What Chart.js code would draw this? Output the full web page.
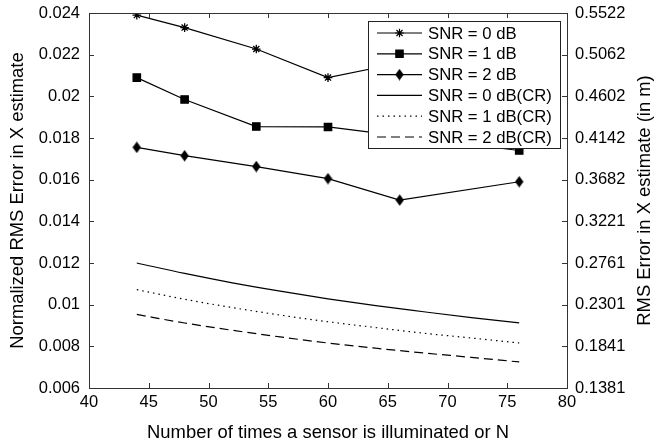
<!DOCTYPE html>
<html lang="en">
<head>
<meta charset="UTF-8">
<title>RMS Error vs N</title>
<script src="https://cdn.jsdelivr.net/npm/chart.js"></script>
<style>
  html, body { margin: 0; padding: 0; background: #fff; }
  #wrap { width: 659px; height: 447px; }
</style>
</head>
<body>
<div id="wrap"><canvas id="chart" width="659" height="447"></canvas></div>
<script>
// measured points (N)
const nSim = [44, 48, 54, 60, 66, 76];
const snr0 = [0.0239, 0.0233, 0.02227, 0.0209, 0.0216, 0.0219];
const snr1 = [0.0209, 0.01985, 0.01855, 0.01853, 0.0181, 0.0174];
const snr2 = [0.01755, 0.01715, 0.01663, 0.01605, 0.01502, 0.0159];

// bound curves (CR)
const nCR = [44, 48, 52, 56, 60, 64, 68, 72, 76];
const cr0 = [0.0120, 0.0115, 0.01105, 0.01065, 0.01028, 0.00995, 0.00966, 0.00938, 0.00913];
const cr1 = [0.01072, 0.01026, 0.00986, 0.0095, 0.00918, 0.0089, 0.00863, 0.0084, 0.00816];
const cr2 = [0.00953, 0.00912, 0.00877, 0.00845, 0.00816, 0.00791, 0.00768, 0.00747, 0.00725];

const leftTicks = [0.006, 0.008, 0.01, 0.012, 0.014, 0.016, 0.018, 0.02, 0.022, 0.024];
const rightTickLabels = ['0.1381', '0.1841', '0.2301', '0.2761', '0.3221', '0.3682', '0.4142', '0.4602', '0.5062', '0.5522'];
const seriesNames = ['SNR = 0 dB', 'SNR = 1 dB', 'SNR = 2 dB', 'SNR = 0 dB(CR)', 'SNR = 1 dB(CR)', 'SNR = 2 dB(CR)'];
const xTitle = 'Number of times a sensor is illuminated or N';
const yTitle = 'Normalized RMS Error in X estimate';
const y2Title = 'RMS Error in X estimate (in m)';

const FONT = '"Liberation Sans", Arial, sans-serif';
const TICK_SIZE = 16.5, TITLE_SIZE = 18.4;

// tall diamond marker like matlab's 'd'
const diamond = document.createElement('canvas');
diamond.width = 9; diamond.height = 12;
(function () {
  const c = diamond.getContext('2d');
  c.fillStyle = '#000';
  c.beginPath();
  c.moveTo(4.5, 0.3); c.lineTo(8.7, 6); c.lineTo(4.5, 11.7); c.lineTo(0.3, 6);
  c.closePath(); c.fill();
})();

function pts(xs, ys) { return xs.map((x, i) => ({ x: x, y: ys[i] })); }

function simSet(label, data, style, r) {
  return { label: label, data: pts(nSim, data), borderColor: '#000', backgroundColor: '#000',
    borderWidth: 1.2, pointStyle: style, pointRadius: r, pointBorderWidth: 1.3, tension: 0 };
}
function crSet(label, data, dash) {
  return { label: label, data: pts(nCR, data), borderColor: '#000', borderWidth: 1.2,
    borderDash: dash, pointRadius: 0, cubicInterpolationMode: 'monotone' };
}

// keep the plot box where the reference has it
function noPad(s) { s.paddingTop = 0; s.paddingBottom = 0; s.paddingLeft = 0; s.paddingRight = 0; }

// inward ticks, full frame, axis titles and inside legend
const framePlugin = {
  id: 'frame',
  afterDraw(chart) {
    const ctx = chart.ctx, a = chart.chartArea;
    const xs = chart.scales.x, ys = chart.scales.y;
    ctx.save();
    ctx.strokeStyle = '#333';
    ctx.lineWidth = 1;
    ctx.strokeRect(a.left + 0.5, a.top + 0.5, a.right - a.left, a.bottom - a.top);
    xs.ticks.forEach(t => {
      const px = Math.round(xs.getPixelForValue(t.value)) + 0.5;
      ctx.beginPath();
      ctx.moveTo(px, a.bottom); ctx.lineTo(px, a.bottom - 5);
      ctx.moveTo(px, a.top); ctx.lineTo(px, a.top + 5);
      ctx.stroke();
    });
    ys.ticks.forEach(t => {
      const py = Math.round(ys.getPixelForValue(t.value)) + 0.5;
      ctx.beginPath();
      ctx.moveTo(a.left, py); ctx.lineTo(a.left + 5, py);
      ctx.moveTo(a.right, py); ctx.lineTo(a.right - 5, py);
      ctx.stroke();
    });

    // axis titles
    const midY = (a.top + a.bottom) / 2;
    ctx.fillStyle = '#000';
    ctx.font = TITLE_SIZE + 'px ' + FONT;
    ctx.textAlign = 'center';
    ctx.textBaseline = 'middle';
    ctx.fillText(xTitle, (a.left + a.right) / 2, 433);
    [[18, yTitle], [645, y2Title]].forEach(([tx, txt]) => {
      ctx.save();
      ctx.translate(tx, midY);
      ctx.rotate(-Math.PI / 2);
      ctx.fillText(txt, 0, 0);
      ctx.restore();
    });

    // legend box
    const bx = 368, by = 21, bw = 192, bh = 127, rowH = 20.8;
    ctx.fillStyle = '#fff';
    ctx.fillRect(bx, by, bw, bh);
    ctx.strokeStyle = '#222';
    ctx.strokeRect(bx + 0.5, by + 0.5, bw, bh);
    ctx.font = '16.7px ' + FONT;
    ctx.textAlign = 'left';
    chart.data.datasets.forEach((ds, i) => {
      const cy = by + 12 + i * rowH;
      ctx.strokeStyle = '#000';
      ctx.lineWidth = 1.2;
      ctx.setLineDash(ds.borderDash || []);
      ctx.beginPath();
      ctx.moveTo(377, cy); ctx.lineTo(422, cy);
      ctx.stroke();
      ctx.setLineDash([]);
      if (ds.pointRadius > 0) {
        ctx.fillStyle = '#000';
        Chart.helpers.drawPoint(ctx, { pointStyle: ds.pointStyle, radius: ds.pointRadius, borderWidth: 1.3, rotation: 0 }, 399.5, cy);
      }
      ctx.fillStyle = '#000';
      ctx.fillText(seriesNames[i], 428, cy + 1);
    });
    ctx.restore();
  }
};

new Chart(document.getElementById('chart'), {
  type: 'line',
  data: {
    datasets: [
      simSet(seriesNames[0], snr0, 'star', 4.3),
      simSet(seriesNames[1], snr1, 'rect', 5.2),
      simSet(seriesNames[2], snr2, diamond, 5),
      crSet(seriesNames[3], cr0, []),
      crSet(seriesNames[4], cr1, [1.5, 4]),
      crSet(seriesNames[5], cr2, [9, 5])
    ]
  },
  options: {
    responsive: false,
    animation: false,
    layout: { padding: { top: 13, right: 0, left: 0, bottom: 0 } },
    plugins: { legend: { display: false }, tooltip: { enabled: false } },
    scales: {
      x: {
        type: 'linear', min: 40, max: 80,
        ticks: { stepSize: 5, color: '#000', font: { family: FONT, size: TICK_SIZE }, padding: 5, maxRotation: 0 },
        grid: { display: false, drawTicks: false },
        border: { display: false },
        afterFit(s) { s.height = 59; noPad(s); }
      },
      y: {
        position: 'left', min: 0.006, max: 0.024,
        afterBuildTicks(s) { s.ticks = leftTicks.map(v => ({ value: v })); },
        ticks: { color: '#000', font: { family: FONT, size: TICK_SIZE }, padding: 9,
          callback: v => String(+v.toFixed(3)) },
        grid: { display: false, drawTicks: false },
        border: { display: false },
        afterFit(s) { s.width = 89; noPad(s); }
      },
      y2: {
        position: 'right', min: 0.006, max: 0.024,
        afterBuildTicks(s) { s.ticks = leftTicks.map(v => ({ value: v })); },
        ticks: { color: '#000', font: { family: FONT, size: TICK_SIZE }, padding: 8,
          callback: (v, i) => rightTickLabels[i] },
        grid: { display: false, drawTicks: false },
        border: { display: false },
        afterFit(s) { s.width = 92; noPad(s); }
      }
    }
  },
  plugins: [framePlugin]
});
</script>
</body>
</html>
